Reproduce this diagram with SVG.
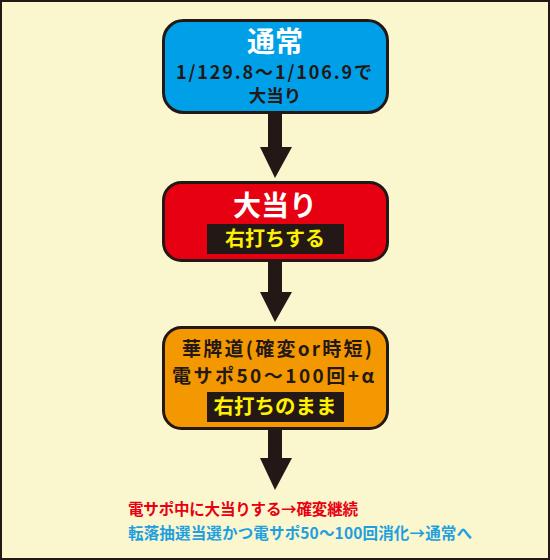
<svg xmlns="http://www.w3.org/2000/svg" width="550" height="560" viewBox="0 0 550 560">
<style>
text{font-family:"Noto Sans CJK JP","Noto Sans",sans-serif;font-weight:bold;text-anchor:middle}
.box{stroke:#231815;stroke-width:3}
.dk{fill:#231815}
.wt{fill:#ffffff}
.yl{fill:#fff100}
.arrow{fill:#231815}
.note{text-anchor:start;font-size:15.5px}
</style>
<rect x="1" y="1" width="548" height="558" fill="#faf6cd" stroke="#231815" stroke-width="2"/>
<g id="connectors">
<polygon class="arrow" points="268,113 282,113 282,147 292,147 275,178 260,147 268,147"/>
<polygon class="arrow" points="268,261 282,261 282,292 292,292 275,322 260,292 268,292"/>
<polygon class="arrow" points="268,429 282,429 282,458 292,458 275,490 260,458 268,458"/>
</g>
<g id="node-normal">
<rect class="box" x="163.5" y="20.5" width="224" height="92" rx="20" fill="#00a0e9"/>
<text class="wt" x="275" y="52" font-size="28">通常</text>
<text class="dk" x="274" y="79" font-size="18" textLength="196">1/129.8〜1/106.9で</text>
<text class="dk" x="275" y="102" font-size="17.5">大当り</text>
</g>
<g id="node-jackpot">
<rect class="box" x="163.5" y="182.5" width="224" height="78" rx="18" fill="#e60012"/>
<text class="wt" x="275" y="216" font-size="28">大当り</text>
<rect x="207" y="224" width="137" height="30" fill="#231815"/>
<text class="yl" x="275" y="246" font-size="20">右打ちする</text>
</g>
<g id="node-kahaido">
<rect class="box" x="163.5" y="327.5" width="224" height="101" rx="18" fill="#f39800"/>
<text class="dk" x="277" y="356" font-size="19" textLength="190">華牌道(確変or時短)</text>
<text class="dk" x="273" y="383" font-size="19" textLength="202">電サポ50〜100回+α</text>
<rect x="207" y="392" width="137" height="30" fill="#231815"/>
<text class="yl" x="275" y="414" font-size="20.5">右打ちのまま</text>
</g>
<g id="notes">
<text class="note" x="128" y="515" fill="#e60012" textLength="230">電サポ中に大当りする→確変継続</text>
<text class="note" x="128" y="539" fill="#1e9fe0" textLength="344">転落抽選当選かつ電サポ50〜100回消化→通常へ</text>
</g>
</svg>
